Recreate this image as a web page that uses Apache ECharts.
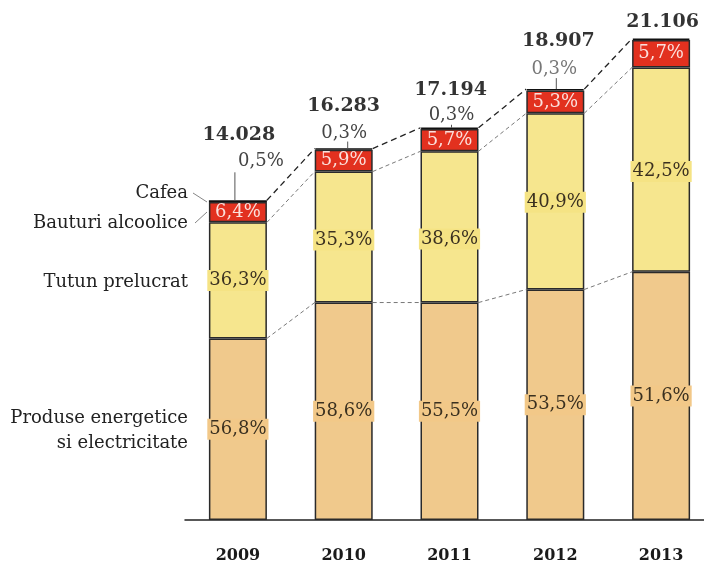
<!DOCTYPE html>
<html><head><meta charset="utf-8">
<script src="https://cdn.jsdelivr.net/npm/echarts@6/dist/echarts.min.js"></script>
<style>html,body{margin:0;padding:0;background:#fff}#c{width:704px;height:563px}</style>
</head><body><div id="c"></div>
<script>
const years = ['2009', '2010', '2011', '2012', '2013'];
const totals = [14.028, 16.283, 17.194, 18.907, 21.106];
const pctEnergy = [56.8, 58.6, 55.5, 53.5, 51.6];
const pctTobacco = [36.3, 35.3, 38.6, 40.9, 42.5];
const pctAlcohol = [6.4, 5.9, 5.7, 5.3, 5.7];
const pctCoffee = [0.5, 0.3, 0.3, 0.3, 0.3];
const seriesNames = ['Produse energetice\nsi electricitate', 'Tutun prelucrat', 'Bauturi alcoolice', 'Cafea'];

const SERIF = '"DejaVu Serif", Georgia, serif';
const BAR_W = 58;
const seg = p => totals.map((t, i) => t * p[i] / 100);
const energy = seg(pctEnergy), tobacco = seg(pctTobacco), alcohol = seg(pctAlcohol), coffee = seg(pctCoffee);
const fmtPct = v => v.toFixed(1).replace('.', ',') + '%';

// label layout (style only)
const totalOffsets = [[1, -65], [0, -42], [1, -38], [3, -48], [1.5, -16]];
const coffeeOffsets = [[23, -40], [0.5, -16], [2, -13], [-1, -20], null];
const coffeeColors = ['#444', '#444', '#444', '#777', '#444'];
const coffeeTicks = [[-3, 28], [4, 7], [2, 3], [1, 11], null];
const tobaccoOffsets = [[0, 0], [0, 3], [0, 12], [0, 1], [0, 2]];

const levelTop = totals.map((t, i) => energy[i] + tobacco[i] + alcohol[i] + coffee[i]);
const levelTob = totals.map((t, i) => energy[i] + tobacco[i]);
const levelEn = energy.slice();

function connector(levels, strong) {
  const data = [];
  for (let i = 0; i < levels.length - 1; i++) data.push([i, levels[i], levels[i + 1]]);
  return {
    type: 'custom', silent: true, z: 1,
    renderItem: (params, api) => {
      const i = api.value(0);
      const p1 = api.coord([i, api.value(1)]);
      const p2 = api.coord([i + 1, api.value(2)]);
      return {
        type: 'line',
        shape: { x1: p1[0] + BAR_W / 2, y1: p1[1], x2: p2[0] - BAR_W / 2, y2: p2[1] },
        style: { stroke: strong ? '#222' : '#555', lineWidth: strong ? 1.3 : 0.8, lineDash: strong ? [6, 4] : [4, 3] }
      };
    },
    data
  };
}

const labelBase = { fontFamily: SERIF, fontSize: 18 };

const option = {
  animation: false,
  grid: { left: 185, right: -10, top: 20, bottom: 43, outerBoundsMode: 'none', containLabel: false },
  xAxis: {
    type: 'category', data: years,
    axisLine: { show: true, lineStyle: { color: '#222', width: 1.5 } },
    axisTick: { show: false },
    axisLabel: { fontFamily: SERIF, fontSize: 16, fontWeight: 'bold', color: '#1a1a1a', margin: 28 }
  },
  yAxis: { type: 'value', min: 0, max: 21.94, show: false, splitLine: { show: false } },
  series: [
    {
      name: seriesNames[0], type: 'bar', stack: 's', barWidth: BAR_W,
      itemStyle: { color: '#f0c98c', borderColor: '#2a2a2a', borderWidth: 1.5 },
      label: Object.assign({ show: true, position: 'inside', color: '#3a3020',
        backgroundColor: '#f2c888', padding: [2, 2, 1, 2],
        formatter: p => fmtPct(pctEnergy[p.dataIndex]) }, labelBase),
      data: energy
    },
    {
      name: seriesNames[1], type: 'bar', stack: 's', barWidth: BAR_W,
      itemStyle: { color: '#f6e68e', borderColor: '#2a2a2a', borderWidth: 1.5 },
      data: tobacco.map((v, i) => ({ value: v, label: { offset: tobaccoOffsets[i] } })),
      label: Object.assign({ show: true, position: 'inside', color: '#3a3020',
        backgroundColor: '#f5e384', padding: [2, 2, 1, 2],
        formatter: p => fmtPct(pctTobacco[p.dataIndex]) }, labelBase)
    },
    {
      name: seriesNames[2], type: 'bar', stack: 's', barWidth: BAR_W,
      itemStyle: { color: '#e2311f', borderColor: '#2a2a2a', borderWidth: 1.5 },
      label: Object.assign({ show: true, position: 'inside', color: '#fbe0dc',
        formatter: p => fmtPct(pctAlcohol[p.dataIndex]) }, labelBase),
      data: alcohol
    },
    {
      name: seriesNames[3], type: 'bar', stack: 's', barWidth: BAR_W,
      itemStyle: { color: '#111', borderColor: '#111', borderWidth: 1.5 },
      data: coffee.map((v, i) => ({
        value: v,
        label: coffeeOffsets[i] ? { show: true, offset: coffeeOffsets[i], color: coffeeColors[i] } : { show: false }
      })),
      label: Object.assign({ show: true, position: 'inside', color: '#444',
        formatter: p => fmtPct(pctCoffee[p.dataIndex]) }, labelBase)
    },
    connector(levelTop, true),
    connector(levelTob, false),
    connector(levelEn, false),
    {
      type: 'custom', silent: true, z: 3,
      renderItem: (params, api) => {
        const i = api.value(0);
        const t = coffeeTicks[i];
        if (!t) return null;
        const p = api.coord([i, api.value(1)]);
        return { type: 'line', shape: { x1: p[0] + t[0], y1: p[1] - t[1], x2: p[0] + t[0], y2: p[1] },
          style: { stroke: '#555', lineWidth: 1 } };
      },
      data: levelTop.map((v, i) => [i, v])
    },
    {
      type: 'scatter', symbolSize: 0, silent: true,
      data: totals.map((t, i) => ({ value: [i, levelTop[i]], label: { offset: totalOffsets[i] } })),
      label: { show: true, position: 'inside', fontFamily: SERIF, fontSize: 19, fontWeight: 'bold', color: '#000',
        formatter: p => totals[p.dataIndex].toFixed(3) }
    }
  ],
  graphic: [
    { type: 'text', style: { text: seriesNames[3], x: 188, y: 193, align: 'right', verticalAlign: 'middle', font: '18px ' + SERIF, fill: '#222' } },
    { type: 'text', style: { text: seriesNames[2], x: 188, y: 223, align: 'right', verticalAlign: 'middle', font: '18px ' + SERIF, fill: '#222' } },
    { type: 'text', style: { text: seriesNames[1], x: 188, y: 282, align: 'right', verticalAlign: 'middle', font: '18px ' + SERIF, fill: '#222', } },
    { type: 'text', style: { text: seriesNames[0], x: 188, y: 431, align: 'right', verticalAlign: 'middle', font: '18px ' + SERIF, fill: '#222', lineHeight: 25 } },
    { type: 'line', shape: { x1: 193, y1: 193, x2: 207, y2: 202 }, style: { stroke: '#666', lineWidth: 0.8 } },
    { type: 'line', shape: { x1: 195, y1: 223, x2: 207, y2: 212 }, style: { stroke: '#666', lineWidth: 0.8 } }
  ]
};
const chart = echarts.init(document.getElementById('c'));
chart.setOption(option);
</script></body></html>
